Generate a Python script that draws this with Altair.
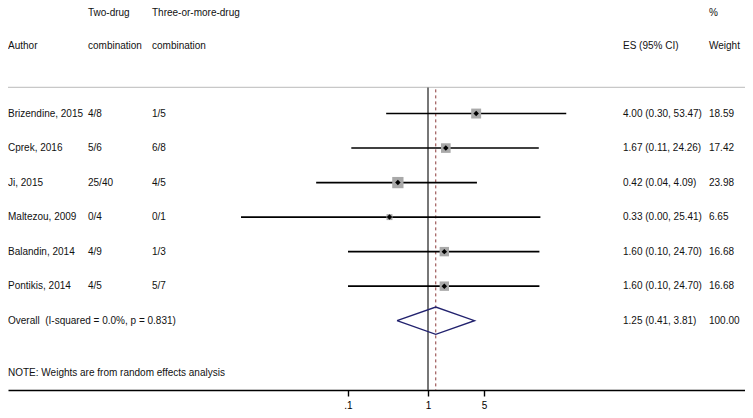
import altair as alt
import pandas as pd

# ---------------- data ----------------
authors = ["Brizendine, 2015", "Cprek, 2016", "Ji, 2015", "Maltezou, 2009",
           "Balandin, 2014", "Pontikis, 2014"]
two_drug = ["4/8", "5/6", "25/40", "0/4", "4/9", "4/5"]
three_drug = ["1/5", "6/8", "4/5", "0/1", "1/3", "5/7"]
es = [4.00, 1.67, 0.42, 0.33, 1.60, 1.60]
ci_low = [0.30, 0.11, 0.04, 0.0046, 0.10, 0.10]
ci_high = [53.47, 24.26, 4.09, 25.41, 24.70, 24.70]
weights = [18.59, 17.42, 23.98, 6.65, 16.68, 16.68]

overall_label = "Overall\u00a0 (I-squared = 0.0%, p = 0.831)"
overall_es = 1.25
overall_low = 0.41
overall_high = 3.81
overall_weight = 100.00

note = "NOTE: Weights are from random effects analysis"
tick_values = [0.1, 1, 5]
tick_labels = [".1", "1", "5"]

# ---------------- layout ----------------
W, H = 737, 382
ROW0, ROWSTEP = 71.03, 34.52
xdom = [10 ** (-420 / 80), 10 ** ((W - 420) / 80)]
ydom = [-ROW0 / ROWSTEP, (H - ROW0) / ROWSTEP]
x_scale = alt.Scale(type="log", domain=xdom, nice=False)
y_scale = alt.Scale(domain=ydom, reverse=True, nice=False, zero=False)
FONT = "Liberation Sans"
TXT = "#111111"

label_expr = "datum.value < 0.5 ? '" + tick_labels[0] + "' : (datum.value < 2 ? '" + \
    tick_labels[1] + "' : '" + tick_labels[2] + "')"
x_axis = alt.Axis(values=tick_values, labelExpr=label_expr, title=None, grid=False,
                  domainColor="black", domainWidth=1.4, tickColor="black",
                  tickWidth=1.4, tickSize=6, labelPadding=4, labelFont=FONT,
                  labelFontSize=10, labelColor="black", labelAngle=0, labelFlush=False)

n = len(authors)
df = pd.DataFrame({
    "author": authors, "two": two_drug, "three": three_drug,
    "es": es, "lo": ci_low, "hi": ci_high, "w": weights,
    "row": list(range(1, n + 1)),
})
df["es_txt"] = [f"{a:.2f} ({b:.2f}, {c:.2f})" for a, b, c in zip(es, ci_low, ci_high)]
df["w_txt"] = [f"{w:.2f}" for w in weights]

ov_row = n + 1
half = 0.396
dia = pd.DataFrame({
    "x": [overall_low, overall_es, overall_high, overall_es, overall_low],
    "y": [ov_row, ov_row - half, ov_row, ov_row + half, ov_row],
    "o": [0, 1, 2, 3, 4],
})
ov = pd.DataFrame({
    "label": [overall_label],
    "es_txt": [f"{overall_es:.2f} ({overall_low:.2f}, {overall_high:.2f})"],
    "w_txt": [f"{overall_weight:.2f}"],
    "row": [ov_row],
})


def Y(field="row"):
    return alt.Y(f"{field}:Q", scale=y_scale, axis=None)


def X(field):
    return alt.X(f"{field}:Q", scale=x_scale, axis=x_axis)


def text_layer(data, field, px):
    return alt.Chart(data).mark_text(
        align="left", baseline="middle", font=FONT, fontSize=10, color=TXT
    ).encode(x=alt.value(px), y=Y(), text=f"{field}:N")


# top grey separator
top_line = alt.Chart(pd.DataFrame({"row": [0.243]})).mark_rule(
    color="#c8c8c8", strokeWidth=1.3
).encode(x=alt.value(0), x2=alt.value(W), y=Y())

vlines = pd.DataFrame({"x": [1.0], "y1": [0.243], "y2": [ydom[1]]})
null_line = alt.Chart(vlines).mark_rule(color="#555555", strokeWidth=1.6).encode(
    x=X("x"), y=Y("y1"), y2="y2:Q")
dash_df = pd.DataFrame({"x": [overall_es], "y1": [0.3], "y2": [ydom[1]]})
dash_line = alt.Chart(dash_df).mark_rule(
    color="#8b3a3a", strokeWidth=1, strokeDash=[3, 3]
).encode(x=X("x"), y=Y("y1"), y2="y2:Q")

bars = alt.Chart(df).mark_rule(color="black", strokeWidth=1.6).encode(
    x=X("lo"), x2="hi:Q", y=Y())

squares = alt.Chart(df).transform_calculate(sz="datum.w * 5.3").mark_square(
    filled=True, color="#a9a9a9", opacity=1
).encode(x=X("es"), y=Y(), size=alt.Size("sz:Q", scale=None, legend=None))

dots = alt.Chart(df).mark_point(
    shape="diamond", filled=True, size=30, color="black", opacity=1
).encode(x=X("es"), y=Y())

diamond = alt.Chart(dia).mark_line(color="#22226e", strokeWidth=1.4).encode(
    x=X("x"), y=Y("y"), order="o:Q")

layers = [top_line, null_line, dash_line, bars, squares, dots, diamond,
          text_layer(df, "author", 0), text_layer(df, "two", 80),
          text_layer(df, "three", 144), text_layer(df, "es_txt", 615),
          text_layer(df, "w_txt", 701),
          text_layer(ov, "label", 0), text_layer(ov, "es_txt", 615),
          text_layer(ov, "w_txt", 701)]

headers = [("Two-drug", 80, -1.90), ("Three-or-more-drug", 144, -1.90),
           ("%", 701, -1.90), ("Author", 0, -0.948), ("combination", 80, -0.948),
           ("combination", 144, -0.948), ("ES (95% CI)", 615, -0.948),
           ("Weight", 701, -0.948), (note, 0, 8.52)]
for t, px, r in headers:
    layers.append(text_layer(pd.DataFrame({"t": [t], "row": [r]}), "t", px))

chart = alt.layer(*layers).properties(
    width=W, height=H,
    autosize=alt.AutoSizeParams(type="none"),
    padding={"left": 0, "right": 0, "top": 0, "bottom": 20},
    background="white",
).configure_view(stroke=None)

chart.save("out.html", embed_options={"renderer": "svg", "actions": False})
